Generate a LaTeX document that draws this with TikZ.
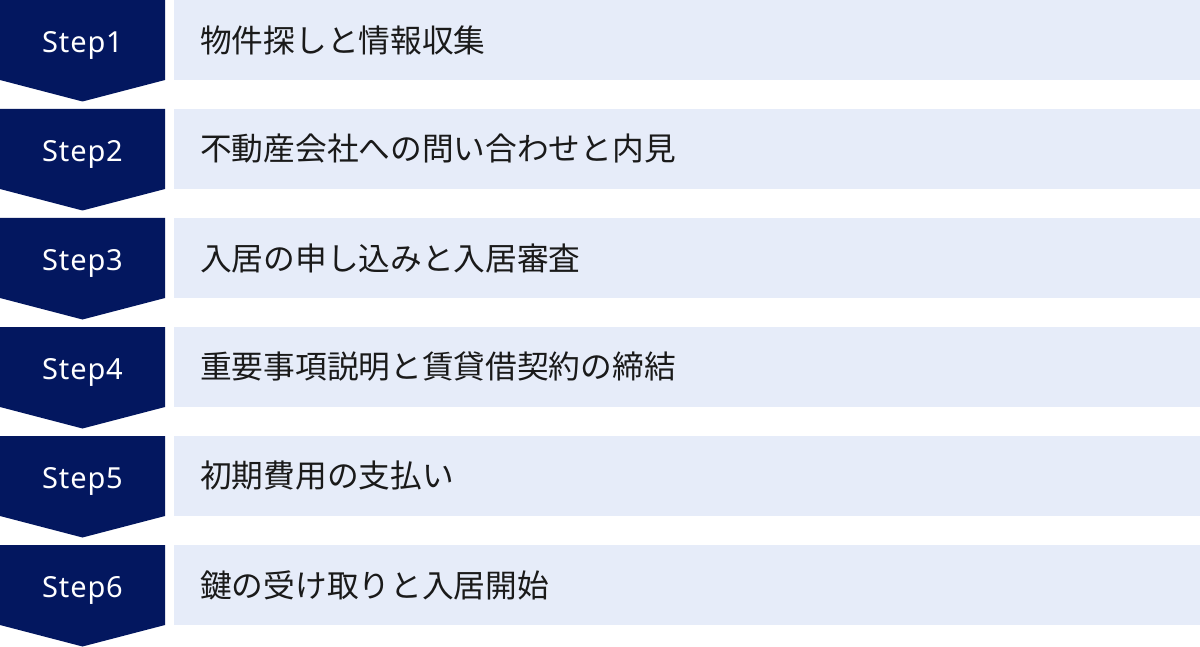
\documentclass[tikz,border=0pt]{standalone}
\usepackage{fontspec}
\setmainfont{Noto Sans CJK JP}
\newfontfamily\latinsans[LetterSpace=3]{Noto Sans}
\definecolor{navy}{HTML}{03175F}
\definecolor{pale}{HTML}{E6ECF9}
\definecolor{ink}{HTML}{1A1A1A}
\begin{document}
\begin{tikzpicture}[x=1pt,y=-1pt,
  stepshape/.style={fill=navy,draw=none},
  panel/.style={fill=pale,draw=none},
  steplabel/.style={text=white,font=\latinsans\fontsize{29}{34}\selectfont,inner sep=0pt,anchor=base},
  panellabel/.style={text=ink,font=\fontsize{31.7}{36}\selectfont,inner sep=0pt,anchor=west}]
\useasboundingbox (0,0) rectangle (1200,647);
\fill[white] (0,0) rectangle (1200,647);
\foreach \i/\t in {1/物件探しと情報収集,2/不動産会社への問い合わせと内見,3/入居の申し込みと入居審査,4/重要事項説明と賃貸借契約の締結,5/初期費用の支払い,6/鍵の受け取りと入居開始}{
  \pgfmathsetmacro{\r}{(\i-1)*109}
  \path[stepshape] (0,\r) -- (165,\r) -- (165,\r+80) -- (82.5,\r+101.5) -- (0,\r+80) -- cycle;
  \path[panel] (174,\r) rectangle (1200,\r+80);
  \node[steplabel] (s\i) at (82.5,\r+52.3) {Step\i};
  \node[panellabel] (p\i) at (200,\r+40) {\t};
}
\end{tikzpicture}
\end{document}
